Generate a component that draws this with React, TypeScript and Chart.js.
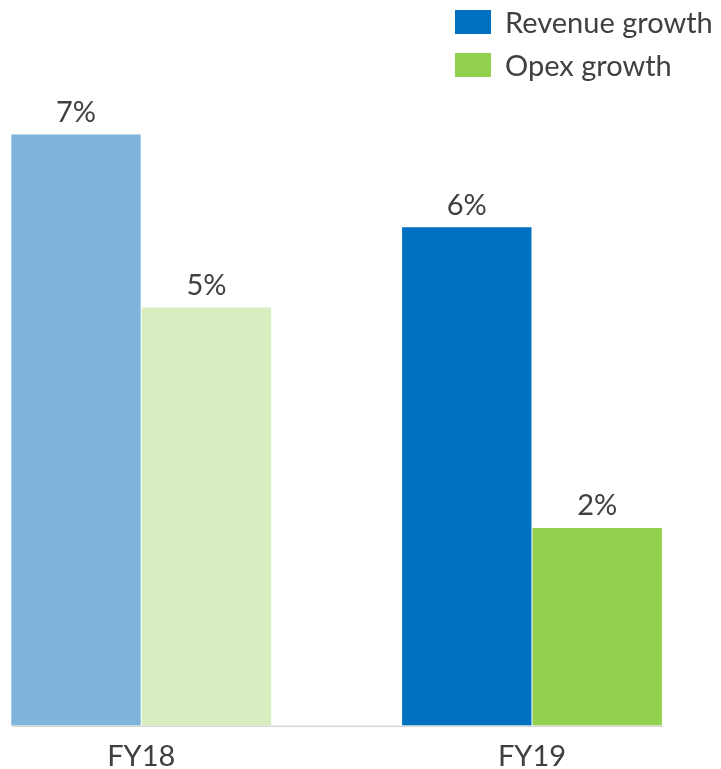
import React, { useEffect, useRef } from "react";
import { Chart, registerables } from "chart.js";

Chart.register(...registerables);

const categories = ["FY18", "FY19"];
const seriesNames = ["Revenue growth", "Opex growth"];
const revenueGrowth = [7.0, 5.9];
const opexGrowth = [4.95, 2.34];
const revenueLabels = ["7%", "6%"];
const opexLabels = ["5%", "2%"];

const revenueColors = ["#7FB5DD", "#0070C0"];
const opexColors = ["#D8EEC1", "#92D050"];
const legendColors = ["#0070C0", "#92D050"];
const TEXT = "#404040";
const FONT = "Lato, 'Open Sans', sans-serif";
const FONT_SIZE = 29;

const valueLabelPlugin = {
  id: "valueLabels",
  afterDatasetsDraw(chart: any) {
    const { ctx } = chart;
    const labelSets = [revenueLabels, opexLabels];
    ctx.save();
    ctx.font = `${FONT_SIZE}px ${FONT}`;
    ctx.fillStyle = TEXT;
    ctx.textAlign = "center";
    ctx.textBaseline = "alphabetic";
    chart.data.datasets.forEach((_: any, di: number) => {
      const meta = chart.getDatasetMeta(di);
      meta.data.forEach((bar: any, i: number) => {
        ctx.fillText(labelSets[di][i], bar.x, bar.y - 12.5);
      });
    });
    ctx.restore();
  },
};

const baselinePlugin = {
  id: "baseline",
  afterDatasetsDraw(chart: any) {
    const { ctx } = chart;
    const y = chart.scales.y.getPixelForValue(0);
    let left = Infinity;
    let right = -Infinity;
    chart.data.datasets.forEach((_: any, di: number) => {
      chart.getDatasetMeta(di).data.forEach((bar: any) => {
        left = Math.min(left, bar.x - bar.width / 2);
        right = Math.max(right, bar.x + bar.width / 2);
      });
    });
    ctx.save();
    ctx.strokeStyle = "#D9D9D9";
    ctx.lineWidth = 1.5;
    ctx.beginPath();
    ctx.moveTo(left, y + 0.75);
    ctx.lineTo(right + 1, y + 0.75);
    ctx.stroke();
    ctx.restore();
  },
};

const legendPlugin = {
  id: "sideLegend",
  afterDraw(chart: any) {
    const { ctx } = chart;
    const x0 = 455;
    const y0 = 10;
    const rowGap = 43;
    ctx.save();
    ctx.font = `${FONT_SIZE}px ${FONT}`;
    ctx.textAlign = "left";
    ctx.textBaseline = "alphabetic";
    chart.data.datasets.forEach((ds: any, i: number) => {
      const top = y0 + i * rowGap;
      ctx.fillStyle = legendColors[i];
      ctx.fillRect(x0, top, 36, 24);
      ctx.fillStyle = TEXT;
      ctx.fillText(ds.label, x0 + 50, top + 23.3);
    });
    ctx.restore();
  },
};

export default function App() {
  const ref = useRef<HTMLCanvasElement>(null);
  useEffect(() => {
    if (!ref.current) return;
    const chart = new Chart(ref.current, {
      type: "bar",
      data: {
        labels: categories,
        datasets: [
          {
            label: seriesNames[0],
            data: revenueGrowth,
            backgroundColor: revenueColors,
            categoryPercentage: 0.6675,
            barPercentage: 0.992,
            clip: false,
          },
          {
            label: seriesNames[1],
            data: opexGrowth,
            backgroundColor: opexColors,
            categoryPercentage: 0.6675,
            barPercentage: 0.992,
            clip: false,
          },
        ],
      },
      options: {
        responsive: false,
        animation: false,
        layout: { padding: { left: 141.2, right: 189, top: 50, bottom: 0 } },
        plugins: {
          legend: { display: false },
          tooltip: { enabled: false },
        },
        scales: {
          x: {
            offset: false,
            grid: { display: false, drawTicks: false },
            border: { display: false },
            ticks: {
              color: TEXT,
              padding: 14,
              font: { family: FONT, size: FONT_SIZE },
              maxRotation: 0,
              autoSkip: false,
            },
            afterFit: (s: any) => {
              s.height = 43.5;
            },
          },
          y: {
            display: false,
            min: 0,
            max: 8,
          },
        },
      },
      plugins: [valueLabelPlugin, baselinePlugin, legendPlugin],
    });
    return () => chart.destroy();
  }, []);
  return (
    <div style={{ position: "fixed", left: 0, top: 0, width: 721, height: 769, background: "#fff" }}>
      <canvas ref={ref} width={721} height={769} />
    </div>
  );
}
